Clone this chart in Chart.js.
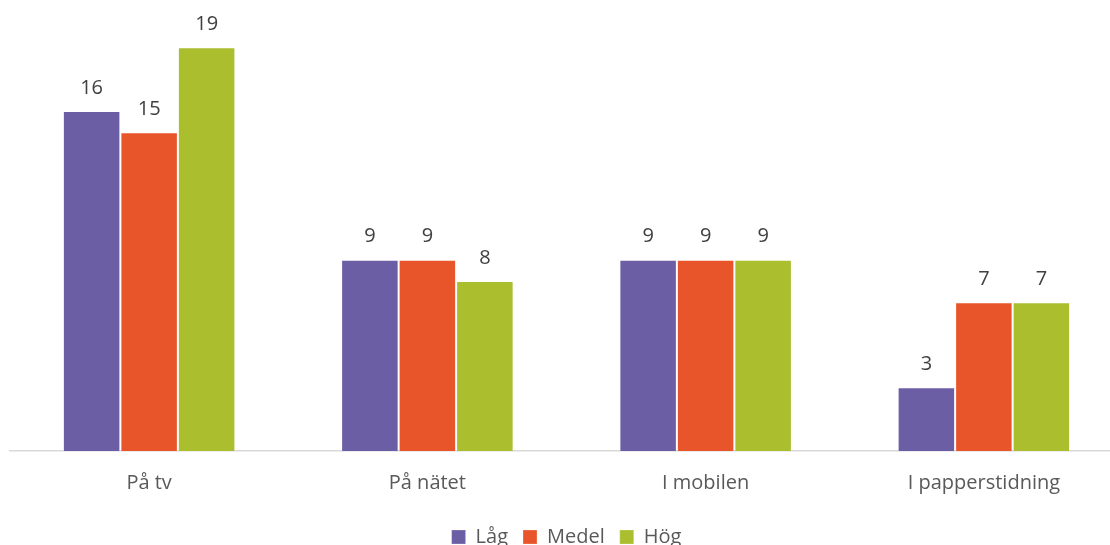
<!DOCTYPE html>
<html>
<head>
<meta charset="utf-8">
<script src="https://cdn.jsdelivr.net/npm/chart.js@4/dist/chart.umd.min.js"></script>
<style>
    html, body { margin: 0; padding: 0; background: #fff; overflow: hidden; }
    #wrap { position: relative; width: 1134px; height: 560px; }
</style>
</head>
<body>
<div id="wrap"><canvas id="chart"></canvas></div>
<script>
const categories = ['På tv', 'På nätet', 'I mobilen', 'I papperstidning'];
const seriesNames = ['Låg', 'Medel', 'Hög'];
const lagValues = [16, 9, 9, 3];
const medelValues = [15, 9, 9, 7];
const hogValues = [19, 8, 9, 7];
const colors = ['#6B5EA5', '#E9552A', '#AABE2E'];

const FONT = '"Open Sans", "Noto Sans", sans-serif';

// Draws the value above every bar
const valueLabels = {
    id: 'valueLabels',
    afterDatasetsDraw(chart) {
        const ctx = chart.ctx;
        ctx.save();
        ctx.font = '20px ' + FONT;
        ctx.fillStyle = '#404040';
        ctx.textAlign = 'center';
        ctx.textBaseline = 'middle';
        chart.data.datasets.forEach((ds, i) => {
            chart.getDatasetMeta(i).data.forEach((bar, j) => {
                ctx.fillText(ds.data[j], bar.x, bar.y - 23);
            });
        });
        ctx.restore();
    }
};

const allSeries = [lagValues, medelValues, hogValues];

new Chart(document.getElementById('chart'), {
    type: 'bar',
    data: {
        labels: categories,
        datasets: allSeries.map((vals, i) => ({
            label: seriesNames[i],
            data: vals,
            backgroundColor: colors[i],
            borderColor: 'rgba(255,255,255,0.25)',
            borderWidth: 1,
            categoryPercentage: 0.62,
            barPercentage: 1
        }))
    },
    options: {
        responsive: true,
        maintainAspectRatio: false,
        animation: false,
        layout: { padding: { left: 10, right: 11, top: 26, bottom: 3 } },
        scales: {
            x: {
                grid: { display: false },
                border: { color: '#D9D9D9', width: 1.5 },
                ticks: { color: '#595959', font: { family: FONT, size: 20 }, padding: 12 },
                // leave room between the category labels and the legend
                afterFit(axis) { axis.height += 5; }
            },
            y: {
                display: false,
                min: 0,
                max: 20
            }
        },
        plugins: {
            legend: {
                position: 'bottom',
                labels: {
                    color: '#595959',
                    font: { family: FONT, size: 20 },
                    boxWidth: 14,
                    boxHeight: 14,
                    padding: 15
                }
            },
            tooltip: { enabled: false }
        }
    },
    plugins: [valueLabels]
});
</script>
</body>
</html>
